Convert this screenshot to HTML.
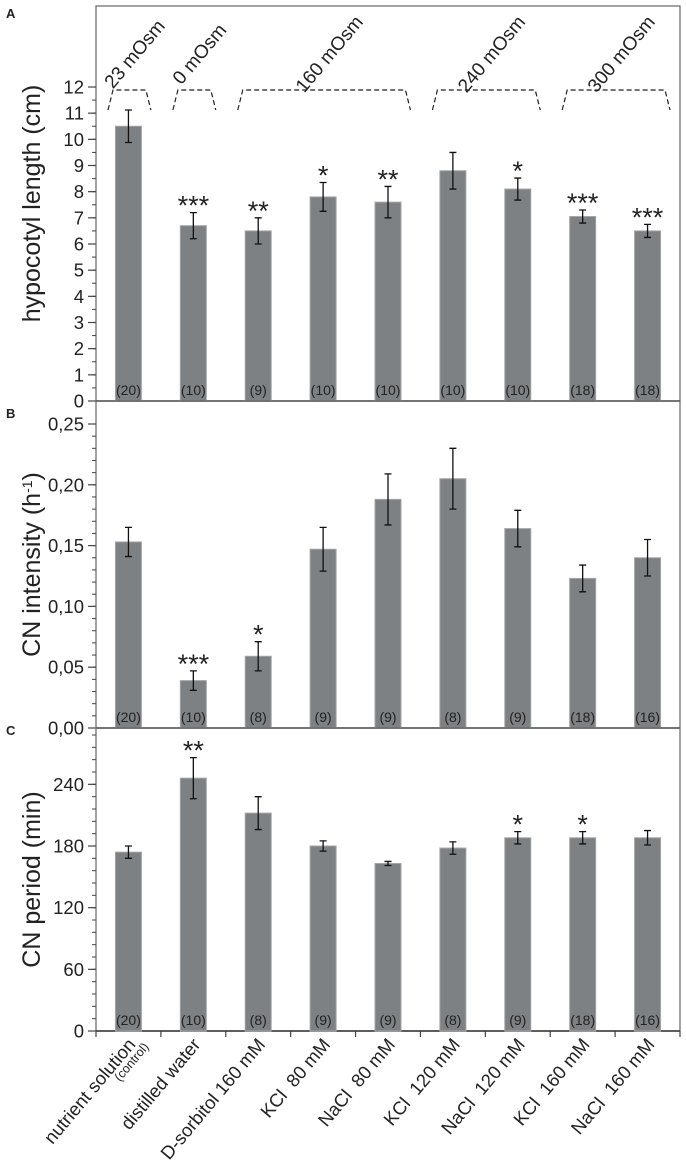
<!DOCTYPE html>
<html><head><meta charset="utf-8"><style>
body{margin:0;background:#fff;}
svg text{font-family:"Liberation Sans",Arial,sans-serif;fill:#222;white-space:pre;}
</style></head><body>
<svg id="chart" width="686" height="1161" xmlns="http://www.w3.org/2000/svg"></svg>
<script>
const categories=["nutrient solution","distilled water","D-sorbitol 160 mM","KCl  80 mM","NaCl  80 mM","KCl  120 mM","NaCl  120 mM","KCl  160 mM","NaCl  160 mM"];
const lengthVals=[10.5,6.7,6.5,7.8,7.6,8.8,8.1,7.05,6.5];
const lengthErr=[0.62,0.5,0.5,0.55,0.6,0.7,0.42,0.25,0.25];
const lengthStars=["","***","**","*","**","","*","***","***"];
const lengthN=["(20)","(10)","(9)","(10)","(10)","(10)","(10)","(18)","(18)"];
const intensityVals=[0.153,0.039,0.059,0.147,0.188,0.205,0.164,0.123,0.140];
const intensityErr=[0.012,0.008,0.012,0.018,0.021,0.025,0.015,0.011,0.015];
const intensityStars=["","***","*","","","","","",""];
const periodVals=[174,246,212,180,163,178,188,188,188];
const periodErr=[6,20,16,5,2,6,6,6,7];
const periodStars=["","**","","","","","*","*",""];
const cnN=["(20)","(10)","(8)","(9)","(9)","(8)","(9)","(18)","(16)"];
const lengthTicks=[0,1,2,3,4,5,6,7,8,9,10,11,12];
const intensityTicks=["0,00","0,05","0,10","0,15","0,20","0,25"];
const periodTicks=[0,60,120,180,240];
const groups=[{label:"23 mOsm",a:0,b:0},{label:"0 mOsm",a:1,b:1},{label:"160 mOsm",a:2,b:4},{label:"240 mOsm",a:5,b:6},{label:"300 mOsm",a:7,b:8}];

const svg=document.getElementById('chart');
const NS="http://www.w3.org/2000/svg";
const ROT=-50;
function mk(tag,attrs,parent){const e=document.createElementNS(NS,tag);for(const k in attrs)e.setAttribute(k,attrs[k]);(parent||svg).appendChild(e);return e;}
const X0=96,X1=680,step=(X1-X0)/categories.length,BW=26;
const xc=i=>X0+step*(i+0.5);

function panel(opts){
  const g=mk('g',{});
  
  
  const y=v=>opts.y0-(v/opts.max)*(opts.y0-opts.yTop);
  const fr=mk('rect',{x:X0,y:opts.frameTop,width:X1-X0,height:opts.y0-opts.frameTop,fill:'none',stroke:'#666','stroke-width':1.2},g);
  
  mk('line',{x1:X0,x2:X1,y1:opts.y0,y2:opts.y0,stroke:'#333','stroke-width':1.6},g);
  for(let v=0;v<=opts.axisMax+1e-9;v+=opts.minor){const yy=y(v);if(yy<opts.frameTop-0.5)break;mk('line',{x1:X0-4,x2:X0,y1:yy,y2:yy,stroke:'#444','stroke-width':1},g);}
  opts.ticks.forEach((t,i)=>{const v=opts.tickVals[i];const yy=y(v);
    mk('line',{x1:X0-8,x2:X0,y1:yy,y2:yy,stroke:'#444','stroke-width':1.2},g);
    const tx=mk('text',{x:X0-12,y:yy+6.5,'text-anchor':'end','font-size':18.5},g);tx.textContent=t;
    });
  const tt=mk('text',{x:0,y:0,'text-anchor':'middle','font-size':25,transform:`translate(${opts.titleX},${(opts.frameTop+opts.y0)/2}) rotate(-90)`},g);
  tt.innerHTML=opts.title;
  const pl=mk('text',{x:6,y:opts.letterY,'font-size':13,'font-weight':'bold'},g);pl.textContent=opts.letter;
  
  opts.vals.forEach((v,i)=>{
    const cx=xc(i);
    const b=mk('rect',{x:cx-BW/2,y:y(v),width:BW,height:opts.y0-y(v),fill:'#7d8184',stroke:'#a3a5a7','stroke-width':1},g);
    
    const e=opts.err[i],yt=y(v+e),yb=y(v-e);
    const eb=mk('path',{d:`M${cx},${yt}V${yb}M${cx-3.5},${yt}H${cx+3.5}M${cx-3.5},${yb}H${cx+3.5}`,stroke:'#111','stroke-width':1.3,fill:'none'},g);
    
    if(opts.stars[i]){const s=mk('text',{x:cx,y:yt+2,'text-anchor':'middle','font-size':27},g);s.textContent=opts.stars[i];
      }
    const n=mk('text',{x:cx,y:opts.y0-6,'text-anchor':'middle','font-size':14},g);n.textContent=opts.n[i];
    
  });
  return y;
}
panel({name:'panel-a-hypocotyl',frameTop:6,y0:401,yTop:87,max:12,axisMax:12,minor:0.5,ticks:lengthTicks,tickVals:lengthTicks,title:'hypocotyl length (cm)',titleX:40,letter:'A',letterY:18,vals:lengthVals,err:lengthErr,stars:lengthStars,n:lengthN});
panel({name:'panel-b-intensity',frameTop:401,y0:728,yTop:424,max:0.25,axisMax:0.25,minor:0.01,ticks:intensityTicks,tickVals:[0,0.05,0.1,0.15,0.2,0.25],title:'CN intensity (h<tspan baseline-shift="super" font-size="14">-1</tspan>)',titleX:40,letter:'B',letterY:418,vals:intensityVals,err:intensityErr,stars:intensityStars,n:cnN});
panel({name:'panel-c-period',frameTop:728,y0:1031,yTop:846,max:180,axisMax:294,minor:12,ticks:periodTicks,tickVals:periodTicks,title:'CN period (min)',titleX:40,letter:'C',letterY:735,vals:periodVals,err:periodErr,stars:periodStars,n:cnN});
for(let i=0;i<=categories.length;i++){mk('line',{x1:X0+step*i,x2:X0+step*i,y1:1031,y2:1037,stroke:'#444','stroke-width':1.2});}
categories.forEach((c,i)=>{
  const cx=xc(i);
  const t=mk('text',{x:0,y:0,'text-anchor':'end','font-size':18.5,transform:`translate(${cx+8},${1045}) rotate(${ROT})`});
  t.textContent=c;
  if(i===0){const s=mk('text',{x:0,y:0,'text-anchor':'end','font-size':12.5,transform:`translate(${cx+21},${1047}) rotate(${ROT})`});
    s.textContent='(control)';}
});
groups.forEach(gp=>{
  const l=xc(gp.a)-step/2+12,r=xc(gp.b)+step/2-10;
  const p=mk('path',{d:`M${l},${110}L${l+5},${90}H${r-5}L${r},${110}`,fill:'none',stroke:'#222','stroke-width':1.2,'stroke-dasharray':'5,3'});
  
  const mx=(l+r)/2;
  const t=mk('text',{x:0,y:0,'text-anchor':'middle','font-size':19,transform:`translate(${mx+10},${58}) rotate(${ROT})`});
  t.textContent=gp.label;
});
</script>
</body></html>
